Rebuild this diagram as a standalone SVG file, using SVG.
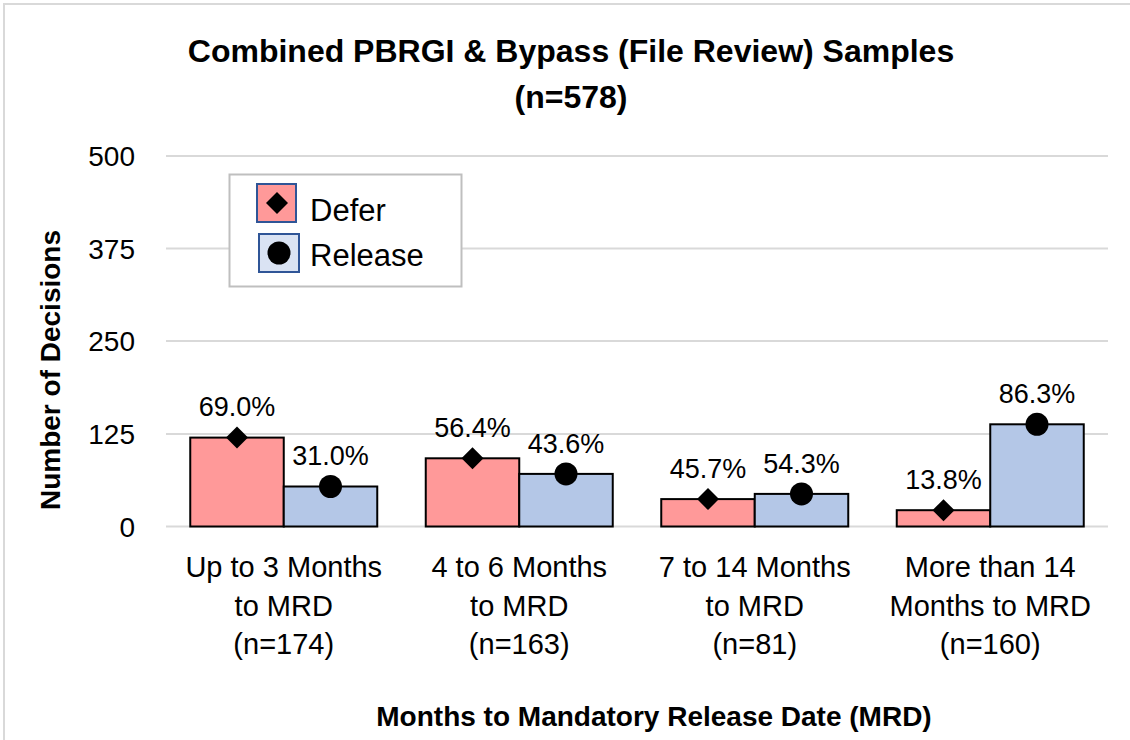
<svg xmlns="http://www.w3.org/2000/svg" width="1130" height="740" viewBox="0 0 1130 740">
<style>
text{font-family:"Liberation Sans",Arial,sans-serif;fill:#000}
.title{font-size:32px;font-weight:bold;text-anchor:middle}
.tick{font-size:28px;text-anchor:end}
.dl{font-size:27px;text-anchor:middle}
.cat{font-size:29px;text-anchor:middle}
.axt{font-size:28px;font-weight:bold;text-anchor:middle}
.leg{font-size:31px}
.grid{stroke:#d9d9d9;stroke-width:2}
.defer{fill:#ff9999;stroke:#000;stroke-width:2}
.release{fill:#b4c7e7;stroke:#000;stroke-width:2}
</style>
<defs>
<path id="dia" d="M0,-11 L11,0 L0,11 L-11,0 Z" fill="#000"/>
<circle id="dot" r="11.5" fill="#000"/>
</defs>
<rect x="0" y="0" width="1130" height="740" fill="#fff"/>
<path d="M4,740 V4 H1130" fill="none" stroke="#d9d9d9" stroke-width="2"/>
<g id="title">
<text class="title" x="571" y="62">Combined PBRGI &amp; Bypass (File Review) Samples</text>
<text class="title" x="571" y="108">(n=578)</text>
</g>
<g id="grid">
<line class="grid" x1="166" y1="156" x2="1108" y2="156"/>
<line class="grid" x1="166" y1="248.5" x2="1108" y2="248.5"/>
<line class="grid" x1="166" y1="341" x2="1108" y2="341"/>
<line class="grid" x1="166" y1="434" x2="1108" y2="434"/>
<line class="grid" x1="166" y1="526.5" x2="1108" y2="526.5"/>
</g>
<g id="yaxis">
<text class="tick" x="135" y="166">500</text>
<text class="tick" x="135" y="258.5">375</text>
<text class="tick" x="135" y="351">250</text>
<text class="tick" x="135" y="444">125</text>
<text class="tick" x="135" y="536.5">0</text>
<text class="axt" transform="translate(60,370) rotate(-90)">Number of Decisions</text>
</g>
<g id="legend">
<rect x="229.5" y="174.5" width="232" height="112" fill="#fff" stroke="#bfbfbf" stroke-width="2"/>
<rect x="257" y="184" width="39" height="38" fill="#ff9999" stroke="#2f5597" stroke-width="2"/>
<use href="#dia" x="277" y="203"/>
<rect x="259" y="234" width="40" height="38" fill="#dae3f3" stroke="#2f5597" stroke-width="2"/>
<use href="#dot" x="279" y="253"/>
<text class="leg" x="310" y="221">Defer</text>
<text class="leg" x="310" y="266">Release</text>
</g>
<g id="cat1">
<rect class="defer" x="190.25" y="437.6" width="93.5" height="88.9"/>
<rect class="release" x="283.75" y="486.5" width="93.5" height="40"/>
<use href="#dia" x="237" y="437.6"/>
<use href="#dot" x="330.5" y="486.5"/>
<text class="dl" x="237" y="416">69.0%</text>
<text class="dl" x="330.5" y="465">31.0%</text>
<text class="cat" x="283.75" y="577">Up to 3 Months</text>
<text class="cat" x="283.75" y="616">to MRD</text>
<text class="cat" x="283.75" y="654">(n=174)</text>
</g>
<g id="cat2">
<rect class="defer" x="425.75" y="458.3" width="93.5" height="68.2"/>
<rect class="release" x="519.25" y="473.9" width="93.5" height="52.6"/>
<use href="#dia" x="472.5" y="458.3"/>
<use href="#dot" x="566" y="473.9"/>
<text class="dl" x="472.5" y="437">56.4%</text>
<text class="dl" x="566" y="452.5">43.6%</text>
<text class="cat" x="519.25" y="577">4 to 6 Months</text>
<text class="cat" x="519.25" y="616">to MRD</text>
<text class="cat" x="519.25" y="654">(n=163)</text>
</g>
<g id="cat3">
<rect class="defer" x="661.25" y="499.1" width="93.5" height="27.4"/>
<rect class="release" x="754.75" y="493.9" width="93.5" height="32.6"/>
<use href="#dia" x="708" y="499.1"/>
<use href="#dot" x="801.5" y="493.9"/>
<text class="dl" x="708" y="477.5">45.7%</text>
<text class="dl" x="801.5" y="472.5">54.3%</text>
<text class="cat" x="754.75" y="577">7 to 14 Months</text>
<text class="cat" x="754.75" y="616">to MRD</text>
<text class="cat" x="754.75" y="654">(n=81)</text>
</g>
<g id="cat4">
<rect class="defer" x="896.75" y="510.2" width="93.5" height="16.3"/>
<rect class="release" x="990.25" y="424.3" width="93.5" height="102.2"/>
<use href="#dia" x="943.5" y="510.2"/>
<use href="#dot" x="1037" y="424.3"/>
<text class="dl" x="943.5" y="488.5">13.8%</text>
<text class="dl" x="1037" y="403">86.3%</text>
<text class="cat" x="990.25" y="577">More than 14</text>
<text class="cat" x="990.25" y="616">Months to MRD</text>
<text class="cat" x="990.25" y="654">(n=160)</text>
</g>
<g id="xaxis">
<text class="axt" x="654" y="726">Months to Mandatory Release Date (MRD)</text>
</g>
</svg>
